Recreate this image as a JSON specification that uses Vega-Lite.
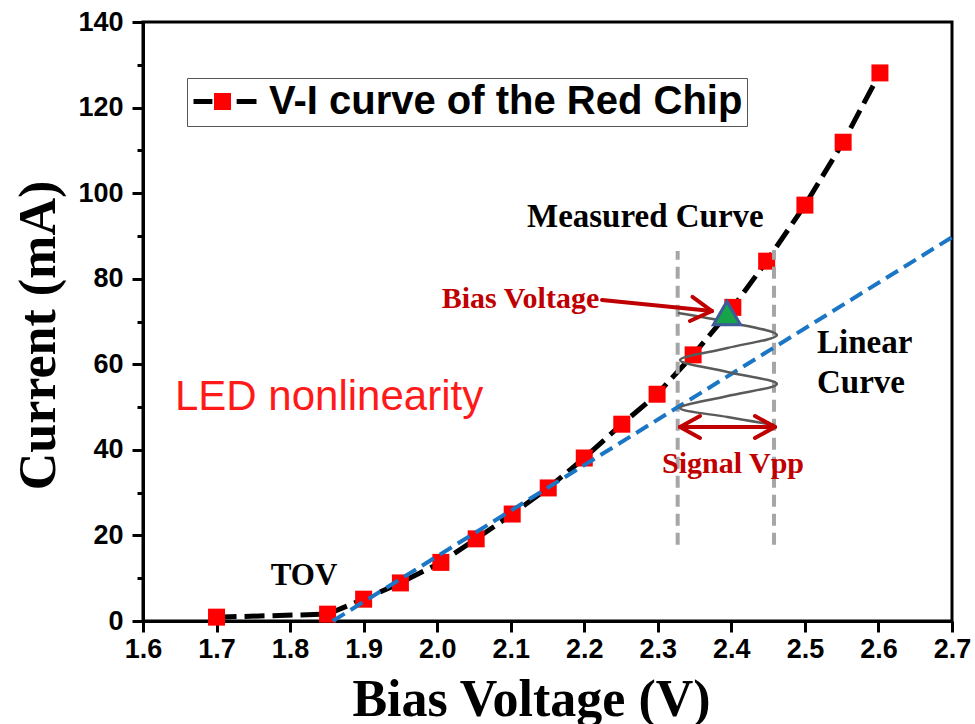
{
  "$schema": "https://vega.github.io/schema/vega-lite/v6.json",
  "width": 809,
  "height": 599,
  "autosize": {"type": "none"},
  "padding": {"left": 143, "top": 22, "right": 23, "bottom": 103},
  "background": "white",
  "datasets": {
    "vi": [
      {"v": 1.70, "i": 0.9},
      {"v": 1.851, "i": 1.6},
      {"v": 1.90, "i": 5.1},
      {"v": 1.95, "i": 8.9},
      {"v": 2.005, "i": 13.7},
      {"v": 2.053, "i": 19.2},
      {"v": 2.102, "i": 25.0},
      {"v": 2.151, "i": 31.1},
      {"v": 2.20, "i": 38.1},
      {"v": 2.251, "i": 46.0},
      {"v": 2.299, "i": 53.0},
      {"v": 2.348, "i": 62.2},
      {"v": 2.402, "i": 73.3},
      {"v": 2.448, "i": 84.1},
      {"v": 2.50, "i": 97.2},
      {"v": 2.552, "i": 111.9},
      {"v": 2.602, "i": 128.1}
    ],
    "linear": [
      {"v": 1.858, "i": 0},
      {"v": 2.7, "i": 89.7}
    ],
    "guides": [
      {"v": 2.327, "i": 17.8, "i2": 86.5},
      {"v": 2.458, "i": 17.8, "i2": 86.7}
    ],
    "signal": [
      {"k": 0, "v": 2.3274, "i": 71.99},
      {"k": 1, "v": 2.3947, "i": 69.88},
      {"k": 2, "v": 2.4620, "i": 66.84},
      {"k": 3, "v": 2.3947, "i": 63.81},
      {"k": 4, "v": 2.3302, "i": 61.00},
      {"k": 5, "v": 2.3947, "i": 58.20},
      {"k": 6, "v": 2.4620, "i": 55.39},
      {"k": 7, "v": 2.3947, "i": 52.59},
      {"k": 8, "v": 2.3302, "i": 49.78},
      {"k": 9, "v": 2.3947, "i": 47.68},
      {"k": 10, "v": 2.4593, "i": 45.81}
    ],
    "bias": [
      {"v": 2.394, "i": 71.99}
    ],
    "arrows": [
      {"v": 2.2241, "i": 75.02, "v2": 2.3736, "i2": 72.45},
      {"v": 2.3471, "i": 75.73, "v2": 2.3736, "i2": 72.45},
      {"v": 2.3437, "i": 70.11, "v2": 2.3736, "i2": 72.45},
      {"v": 2.3302, "i": 45.34, "v2": 2.4593, "i2": 45.34},
      {"v": 2.3574, "i": 47.91, "v2": 2.3302, "i2": 45.34},
      {"v": 2.3574, "i": 42.77, "v2": 2.3302, "i2": 45.34},
      {"v": 2.4321, "i": 47.91, "v2": 2.4593, "i2": 45.34},
      {"v": 2.4321, "i": 42.77, "v2": 2.4593, "i2": 45.34}
    ],
    "blackNotes": [
      {"v": 2.1221, "i": 92.08, "label": "Measured Curve"},
      {"v": 2.5164, "i": 62.63, "label": "Linear"},
      {"v": 2.5164, "i": 53.28, "label": "Curve"}
    ],
    "tovNote": [
      {"v": 1.8189, "i": 8.41, "label": "TOV"}
    ],
    "redNotes": [
      {"v": 2.1132, "i": 73.15, "label": "Bias Voltage"},
      {"v": 2.4022, "i": 34.59, "label": "Signal Vpp"}
    ],
    "ledNote": [
      {"v": 1.6435, "i": 49.3, "label": "LED nonlinearity"}
    ]
  },
  "layer": [
    {
      "data": {"name": "vi"},
      "mark": {"type": "line", "strokeWidth": 5, "strokeDash": [20, 8]},
      "encoding": {
        "x": {
          "field": "v", "type": "quantitative",
          "scale": {"domain": [1.6, 2.7], "nice": false, "zero": false},
          "axis": {
            "title": "Bias Voltage (V)",
            "values": [1.6, 1.7, 1.8, 1.9, 2.0, 2.1, 2.2, 2.3, 2.4, 2.5, 2.6, 2.7],
            "format": ".1f",
            "labelFlush": false,
            "labelOverlap": false,
            "tickSize": 11,
            "labelPadding": 4,
            "titleBaseline": "alphabetic",
            "titleAlign": "center",
            "titleX": 388,
            "titleY": 94
          }
        },
        "y": {
          "field": "i", "type": "quantitative",
          "scale": {"domain": [0, 140], "nice": false},
          "axis": {
            "title": "Current (mA)",
            "values": [0, 10, 20, 30, 40, 50, 60, 70, 80, 90, 100, 110, 120, 130, 140],
            "labelExpr": "datum.value % 20 === 0 ? datum.label : ''",
            "labelOverlap": false,
            "labelFlush": false,
            "tickSize": {"condition": {"test": "datum.value % 20 === 0", "value": 11}, "value": 6},
            "labelPadding": 9,
            "titleAngle": -90,
            "titleBaseline": "alphabetic",
            "titleAlign": "center",
            "titleX": -89,
            "titleY": 313
          }
        },
        "stroke": {
          "datum": "V-I curve of the Red Chip",
          "type": "nominal",
          "scale": {"range": ["#000000"]},
          "legend": {
            "orient": "none",
            "legendX": 44,
            "legendY": 56,
            "title": null,
            "symbolType": "M-1,0H-0.4M0.37,0H1",
            "symbolSize": 3969,
            "symbolStrokeWidth": 5,
            "symbolStrokeColor": "#000000",
            "symbolDash": [1, 0],
            "clipHeight": 39,
            "padding": 4,
            "labelOffset": 10,
            "labelFont": "Liberation Sans",
            "labelFontSize": 40,
            "labelFontWeight": "bold",
            "labelColor": "#000000",
            "labelLimit": 900,
            "strokeColor": "#555555"
          }
        }
      }
    },
    {
      "data": {"name": "vi"},
      "mark": {"type": "point", "shape": "square", "filled": true, "size": 289, "opacity": 1, "strokeWidth": 0},
      "encoding": {
        "x": {"field": "v", "type": "quantitative"},
        "y": {"field": "i", "type": "quantitative"},
        "fill": {
          "datum": "marker",
          "type": "nominal",
          "scale": {"range": ["#ff0000"]},
          "legend": {
            "orient": "none",
            "legendX": 44,
            "legendY": 56,
            "title": null,
            "symbolType": "M-0.27,-0.27H0.27V0.27H-0.27Z",
            "symbolSize": 3969,
            "symbolStrokeWidth": 0,
            "symbolFillColor": "#ff0000",
            "symbolOpacity": 1,
            "clipHeight": 39,
            "padding": 4,
            "labelOffset": 10,
            "labelExpr": "''"
          }
        }
      }
    },
    {
      "data": {"name": "guides"},
      "mark": {"type": "rule", "color": "#a6a6a6", "strokeWidth": 4, "strokeDash": [12, 7]},
      "encoding": {
        "x": {"field": "v", "type": "quantitative"},
        "y": {"field": "i", "type": "quantitative"},
        "y2": {"field": "i2"}
      }
    },
    {
      "data": {"name": "linear"},
      "mark": {"type": "line", "color": "#1b76c6", "strokeWidth": 4, "strokeDash": [14, 7]},
      "encoding": {
        "x": {"field": "v", "type": "quantitative"},
        "y": {"field": "i", "type": "quantitative"}
      }
    },
    {
      "data": {"name": "signal"},
      "mark": {"type": "line", "color": "#5a5a5a", "strokeWidth": 2.5, "interpolate": "cardinal"},
      "encoding": {
        "x": {"field": "v", "type": "quantitative"},
        "y": {"field": "i", "type": "quantitative"},
        "order": {"field": "k", "type": "quantitative"}
      }
    },
    {
      "data": {"name": "bias"},
      "mark": {"type": "point", "shape": "triangle-up", "filled": true, "size": 730, "fill": "#16a34a", "stroke": "#3d5a99", "strokeWidth": 3, "opacity": 1},
      "encoding": {
        "x": {"field": "v", "type": "quantitative"},
        "y": {"field": "i", "type": "quantitative"}
      }
    },
    {
      "data": {"name": "arrows"},
      "mark": {"type": "rule", "color": "#c00000", "strokeWidth": 4, "strokeCap": "round"},
      "encoding": {
        "x": {"field": "v", "type": "quantitative"},
        "y": {"field": "i", "type": "quantitative"},
        "x2": {"field": "v2"},
        "y2": {"field": "i2"}
      }
    },
    {
      "data": {"name": "blackNotes"},
      "mark": {"type": "text", "font": "Liberation Serif", "fontWeight": "bold", "fontSize": 33, "color": "#000000", "align": "left", "baseline": "alphabetic"},
      "encoding": {
        "x": {"field": "v", "type": "quantitative"},
        "y": {"field": "i", "type": "quantitative"},
        "text": {"field": "label"}
      }
    },
    {
      "data": {"name": "tovNote"},
      "mark": {"type": "text", "font": "Liberation Serif", "fontWeight": "bold", "fontSize": 31, "color": "#000000", "align": "center", "baseline": "alphabetic"},
      "encoding": {
        "x": {"field": "v", "type": "quantitative"},
        "y": {"field": "i", "type": "quantitative"},
        "text": {"field": "label"}
      }
    },
    {
      "data": {"name": "redNotes"},
      "mark": {"type": "text", "font": "Liberation Serif", "fontWeight": "bold", "fontSize": 30, "color": "#c00000", "align": "center", "baseline": "alphabetic"},
      "encoding": {
        "x": {"field": "v", "type": "quantitative"},
        "y": {"field": "i", "type": "quantitative"},
        "text": {"field": "label"}
      }
    },
    {
      "data": {"name": "ledNote"},
      "mark": {"type": "text", "font": "Liberation Sans", "fontSize": 42, "color": "#ff1a1a", "align": "left", "baseline": "alphabetic"},
      "encoding": {
        "x": {"field": "v", "type": "quantitative"},
        "y": {"field": "i", "type": "quantitative"},
        "text": {"field": "label"}
      }
    }
  ],
  "config": {
    "view": {"stroke": "#000000", "strokeWidth": 3},
    "axis": {
      "grid": false,
      "domainColor": "#000000",
      "domainWidth": 3,
      "tickColor": "#000000",
      "tickWidth": 3,
      "labelFont": "Liberation Sans",
      "labelFontWeight": "bold",
      "labelFontSize": 27,
      "labelColor": "#000000",
      "titleFont": "Liberation Serif",
      "titleFontWeight": "bold",
      "titleFontSize": 52,
      "titleColor": "#000000"
    }
  }
}
